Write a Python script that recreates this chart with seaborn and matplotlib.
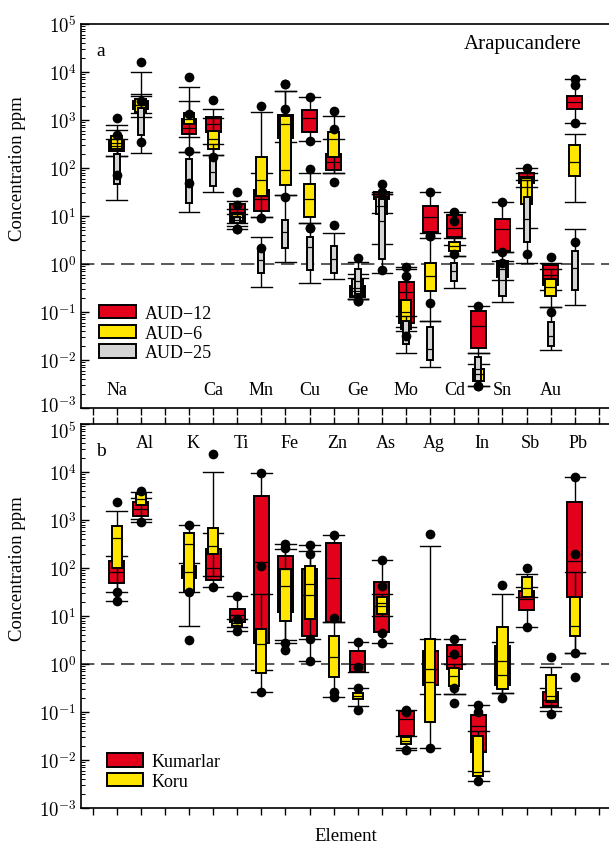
import numpy as np
import pandas as pd
import matplotlib
matplotlib.use("Agg")
import matplotlib.pyplot as plt
from matplotlib.patches import Patch
from matplotlib.ticker import LogLocator, NullFormatter
import matplotlib.transforms as mtransforms
import seaborn as sns

# ---------------- data (log10 of concentration in ppm) ----------------
ELEMENTS = ["Na", "Al", "K", "Ca", "Ti", "Mn", "Fe", "Cu", "Zn", "Ge",
            "As", "Mo", "Ag", "Cd", "In", "Sn", "Sb", "Au", "Pb"]
ORDER = ["_g0", "Na", "Al", "_g1", "K", "Ca", "Ti", "Mn", "Fe", "Cu", "Zn",
         "Ge", "As", "Mo", "Ag", "Cd", "In", "Sn", "Sb", "Au", "Pb", "_g2"]
LABELS_A = ["Na", "Ca", "Mn", "Cu", "Ge", "Mo", "Cd", "Sn", "Au"]
LABELS_B = ["Al", "K", "Ti", "Fe", "Zn", "As", "Ag", "In", "Sb", "Pb"]

# Panel a: AUD-12
A12_LO  = [2.26, 3.15, 2.33, 2.27, 0.80, 0.97, 2.55, 2.57, 1.90, -0.73, 1.06, -1.32, 0.55, 0.40, -1.85, 0.24, 1.60, -0.55, 2.94]
A12_Q1  = [2.35, 3.23, 2.71, 2.74, 0.88, 1.11, 2.62, 2.76, 1.96, -0.69, 1.35, -1.22, 0.67, 0.56, -1.76, 0.28, 1.69, -0.44, 3.23]
A12_MED = [2.46, 3.32, 2.83, 2.92, 1.08, 1.35, 2.92, 3.04, 2.12, -0.57, 1.42, -0.59, 0.97, 0.76, -1.30, 0.73, 1.80, -0.23, 3.38]
A12_Q3  = [2.58, 3.40, 3.02, 3.06, 1.25, 1.54, 3.10, 3.21, 2.29, -0.45, 1.49, -0.37, 1.20, 1.02, -0.97, 0.94, 1.90, -0.03, 3.51]
A12_HI  = [2.90, 3.50, 3.68, 3.23, 1.32, 1.90, 3.60, 3.47, 2.60, -0.30, 1.51, -0.06, 1.49, 1.09, -0.87, 1.30, 2.01, 0.02, 3.85]
A12_DOTS = [[3.04], [], [3.89], [3.42], [1.49, 0.73], [0.95], [3.76, 3.23], [3.47, 2.57],
            [1.70], [-0.77], [1.67], [-0.06, -0.24], [1.49, 0.59], [1.09, 0.90], [-0.87],
            [1.30, 0.24], [2.01], [0.14], [3.85, 3.73, 2.94]]

# Panel a: AUD-6
A6_LO  = [2.26, 3.07, 2.64, 2.27, 0.85, 0.97, 1.44, 0.85, 1.90, -0.73, 0.42, -1.40, -1.18, 0.16, -2.54, -0.33, 0.76, -0.90, 1.30]
A6_Q1  = [2.40, 3.16, 2.92, 2.40, 0.90, 1.42, 1.65, 0.97, 2.22, -0.66, 1.04, -1.35, -0.56, 0.28, -2.43, -0.28, 1.25, -0.66, 1.84]
A6_MED = [2.52, 3.31, 3.02, 2.60, 0.97, 1.75, 1.96, 1.35, 2.60, -0.50, 1.20, -1.01, -0.24, 0.37, -2.30, -0.10, 1.60, -0.47, 2.12]
A6_Q3  = [2.67, 3.44, 3.15, 2.78, 1.06, 2.22, 3.09, 1.67, 2.76, -0.31, 1.39, -0.76, 0.03, 0.46, -2.19, 0.07, 1.81, -0.31, 2.48]
A6_HI  = [2.79, 3.54, 3.40, 3.04, 1.15, 3.16, 3.60, 1.90, 3.08, -0.20, 1.46, -0.10, 0.65, 0.55, -2.08, 0.24, 1.90, -0.10, 2.71]
A6_DOTS = [[2.69], [3.40], [3.125], [2.22], [1.23], [3.29], [3.76, 1.39], [1.98, 0.76],
           [3.18, 2.81], [-0.77], [1.51], [-1.49], [0.59, -0.81], [0.21], [-2.54],
           [0.03], [], [-0.99], []]

# Panel a: AUD-25
A25_LO  = [1.34, 2.31, 1.09, 1.49, 0.73, -0.47, 0.05, -0.40, -0.31, -0.73, -0.19, -1.85, -2.15, -0.49, -2.54, -0.80, 0.03, -1.79, -0.85]
A25_Q1  = [1.67, 2.69, 1.27, 1.62, 0.85, -0.19, 0.33, -0.12, -0.19, -0.63, 0.10, -1.67, -1.99, -0.35, -2.43, -0.66, 0.46, -1.70, -0.54]
A25_MED = [1.85, 3.06, 1.68, 1.91, 0.92, 0.08, 0.66, 0.35, 0.10, -0.35, 0.90, -1.42, -1.77, -0.14, -2.19, -0.33, 0.94, -1.51, -0.09]
A25_Q3  = [2.29, 3.26, 2.19, 2.22, 0.98, 0.31, 0.92, 0.56, 0.38, -0.10, 1.35, -1.18, -1.32, 0.03, -1.94, 0.03, 1.39, -1.21, 0.28]
A25_HI  = [2.60, 4.01, 2.33, 2.50, 1.05, 0.56, 1.44, 0.85, 0.65, 0.05, 1.46, -1.08, -1.18, 0.16, -1.85, 0.07, 1.75, -0.90, 0.73]
A25_DOTS = [[1.86], [4.20, 2.55], [1.68, 2.36], [], [0.73], [0.33], [], [0.76], [0.81],
            [0.12], [-0.12], [], [], [], [-2.54], [], [0.21], [], [0.46]]

# Panel b: Kumarlar
KUM_LO  = [1.31, 2.96, 1.51, 1.60, 0.69, -0.12, 0.44, 0.07, 0.87, -0.17, 0.44, -1.79, -0.625, -0.625, -2.22, -0.60, 0.78, -0.98, 0.23]
KUM_Q1  = [1.68, 3.08, 1.79, 1.74, 0.88, 0.44, 1.09, 0.58, 0.87, -0.17, 0.67, -1.51, -0.44, -0.10, -1.84, -0.44, 1.13, -0.87, 1.40]
KUM_MED = [1.92, 3.23, 1.92, 2.01, 1.02, 2.13, 1.98, 1.44, 1.79, 0.00, 1.21, -1.15, -0.10, 0.17, -1.30, 0.07, 1.35, -0.75, 2.14]
KUM_Q3  = [2.15, 3.37, 2.05, 2.40, 1.15, 3.51, 2.24, 1.98, 2.52, 0.28, 1.71, -0.97, 0.28, 0.40, -1.06, 0.38, 1.53, -0.59, 3.37]
KUM_HI  = [2.24, 3.45, 2.10, 2.73, 1.41, 3.98, 2.51, 2.48, 2.69, 0.45, 2.17, -0.95, 0.52, 0.52, -0.85, 0.45, 1.60, -0.50, 3.89]
KUM_DOTS = [[1.49, 1.31], [2.96], [1.51], [1.60], [1.41, 0.94, 0.69], [3.98, 2.05],
            [2.51, 2.41, 0.44, 0.30], [2.48, 2.29, 0.52, 0.07], [2.69, 0.95], [0.45, -0.06],
            [2.17, 1.63, 0.65, 0.44], [-0.95, -1.01, -1.79], [], [0.52, 0.21, -0.81],
            [-0.85, -1.01], [-0.71], [0.78], [-1.04], [3.89, 2.29, 0.23, -0.28]]

# Panel b: Koru
KOR_LO  = [1.51, 3.02, 0.80, 1.83, 0.77, -0.58, 0.50, 0.52, -0.69, -0.87, 1.00, -1.76, -1.74, -0.625, -2.43, -0.60, 1.39, -0.90, 0.23]
KOR_Q1  = [2.01, 3.31, 1.53, 2.29, 0.80, -0.19, 0.90, 0.94, -0.28, -0.72, 1.04, -1.67, -1.20, -0.45, -2.33, -0.53, 1.39, -0.80, 0.59]
KOR_MED = [2.63, 3.44, 2.51, 2.46, 0.86, 0.42, 1.62, 1.67, 0.14, -0.66, 1.28, -1.60, -0.38, -0.26, -2.26, -0.22, 1.58, -0.66, 0.80]
KOR_Q3  = [2.87, 3.54, 2.72, 2.83, 0.92, 0.73, 1.98, 2.05, 0.59, -0.60, 1.39, -1.53, 0.52, -0.09, -1.51, 0.78, 1.81, -0.23, 1.40]
KOR_HI  = [3.19, 3.58, 2.90, 4.01, 0.94, 1.46, 2.40, 2.35, 0.87, -0.51, 1.45, -1.50, 2.46, 0.00, -1.40, 1.46, 1.875, -0.07, 1.92]
KOR_DOTS = [[3.38], [3.61], [2.90, 0.49], [4.375], [], [-0.58], [], [], [-0.59, -0.69],
            [-0.51, -0.95], [], [], [2.71, -1.74], [-0.49], [-2.43], [1.65], [1.99], [0.14], []]

RED, YELLOW, GRAY = "#e3001b", "#ffe600", "#d4d4d4"

# ---------------- helpers ----------------
def box_frame(lo, q1, med, q3, hi):
    rows = []
    for el, a, b, c, d, e in zip(ELEMENTS, lo, q1, med, q3, hi):
        for v in (a, b, c, d, e):
            rows.append((el, 10.0 ** v))
    return pd.DataFrame(rows, columns=["element", "ppm"])


def dot_frame(*dot_lists):
    rows = []
    for dots in dot_lists:
        for el, vs in zip(ELEMENTS, dots):
            for v in vs:
                rows.append((el, 10.0 ** v))
    return pd.DataFrame(rows, columns=["element", "ppm"])


serif = ["Liberation Serif", "DejaVu Serif"]
plt.rcParams["font.family"] = serif
plt.rcParams["mathtext.fontset"] = "cm"

fig = plt.figure(figsize=(6.09, 8.45), dpi=100)
W, H = 609.0, 845.0
ax_a = fig.add_axes([80.5 / W, 1 - 409 / H, 530.5 / W, 384 / H])
ax_b = fig.add_axes([80.5 / W, 1 - 809 / H, 530.5 / W, 384 / H])


def draw_panel(ax, series, dots):
    for stats, color, width in series:
        sns.boxplot(data=box_frame(*stats), x="element", y="ppm", order=ORDER,
                    color=color, saturation=1, width=width, linecolor="black",
                    linewidth=1.4, whis=(0, 100), showfliers=False,
                    log_scale=(False, True), capwidths=0.85,
                    whiskerprops=dict(linewidth=1.0), capprops=dict(linewidth=1.0),
                    medianprops=dict(linewidth=0.9), ax=ax)
    sns.stripplot(data=dots, x="element", y="ppm", order=ORDER, jitter=False,
                  color="black", size=7, log_scale=(False, True), ax=ax,
                  zorder=6, legend=False)
    ax.axhline(1.0, color="#3a3a3a", lw=1.2, ls=(0, (8, 4)), zorder=1)
    ax.set_xlim(-0.5, 21.5)
    ax.set_ylim(1e-3, 1e5)
    ax.set_xticks(range(len(ORDER)))
    ax.set_xticklabels([])
    ax.set_xlabel("")
    ax.set_yticks([10.0 ** k for k in range(-3, 6)])
    ax.set_yticklabels([f"$10^{{{k}}}$" for k in range(-3, 6)], fontsize=13.5)
    ax.yaxis.set_minor_locator(LogLocator(base=10, subs=np.arange(2, 10), numticks=100))
    ax.yaxis.set_minor_formatter(NullFormatter())
    ax.tick_params(axis="y", which="major", direction="in", length=6, width=1, pad=3)
    ax.tick_params(axis="y", which="minor", direction="in", length=3, width=0.7)
    ax.tick_params(axis="x", which="major", direction="out", length=5, width=1)
    ax.set_ylabel("Concentration ppm", fontsize=13.5)
    ax.yaxis.set_label_coords(-0.103, 0.625)
    for s in ax.spines.values():
        s.set_linewidth(1.2)


draw_panel(ax_a,
           [((A12_LO, A12_Q1, A12_MED, A12_Q3, A12_HI), RED, 0.62),
            ((A6_LO, A6_Q1, A6_MED, A6_Q3, A6_HI), YELLOW, 0.45),
            ((A25_LO, A25_Q1, A25_MED, A25_Q3, A25_HI), GRAY, 0.25)],
           dot_frame(A12_DOTS, A6_DOTS, A25_DOTS))
draw_panel(ax_b,
           [((KUM_LO, KUM_Q1, KUM_MED, KUM_Q3, KUM_HI), RED, 0.62),
            ((KOR_LO, KOR_Q1, KOR_MED, KOR_Q3, KOR_HI), YELLOW, 0.42)],
           dot_frame(KUM_DOTS, KOR_DOTS))

ax_b.tick_params(axis="x", which="major", top=True)
ax_b.set_xlabel("Element", fontsize=13.5, labelpad=5)

# nudge the two touching tick labels between the panels apart
fig.canvas.draw()
lab_a = ax_a.get_yticklabels()[0]
lab_a.set_transform(lab_a.get_transform() + mtransforms.ScaledTranslation(0, 3 / 72, fig.dpi_scale_trans))
lab_b = ax_b.get_yticklabels()[-1]
lab_b.set_transform(lab_b.get_transform() + mtransforms.ScaledTranslation(0, -4 / 72, fig.dpi_scale_trans))

# element labels inside the panels
tr_a = mtransforms.blended_transform_factory(ax_a.transData, ax_a.transAxes)
for lab in LABELS_A:
    ax_a.text(ORDER.index(lab), 0.047, lab, transform=tr_a, ha="center",
              va="center", fontsize=13)
tr_b = mtransforms.blended_transform_factory(ax_b.transData, ax_b.transAxes)
for lab in LABELS_B:
    ax_b.text(ORDER.index(lab) + 0.15, 0.953, lab, transform=tr_b, ha="center",
              va="center", fontsize=13)

ax_a.text(0.03, 0.93, "a", transform=ax_a.transAxes, fontsize=14, va="center")
ax_b.text(0.03, 0.93, "b", transform=ax_b.transAxes, fontsize=14, va="center")
ax_a.text(0.944, 0.95, "Arapucandere", transform=ax_a.transAxes, fontsize=15,
          ha="right", va="center")

leg_kw = dict(frameon=False, fontsize=13, handlelength=2.0, handleheight=0.75,
              labelspacing=0.15, handletextpad=0.5, borderaxespad=0)
ax_a.legend(handles=[Patch(facecolor=c, edgecolor="black", linewidth=1.4, label=l)
                     for c, l in [(RED, "AUD\u221212"), (YELLOW, "AUD\u22126"),
                                  (GRAY, "AUD\u221225")]],
            loc="lower left", bbox_to_anchor=(0.022, 0.103), **leg_kw)
ax_b.legend(handles=[Patch(facecolor=c, edgecolor="black", linewidth=1.4, label=l)
                     for c, l in [(RED, "Kumarlar"), (YELLOW, "Koru")]],
            loc="lower left", bbox_to_anchor=(0.036, 0.028), **leg_kw)

fig.savefig("out.png", dpi=100)
